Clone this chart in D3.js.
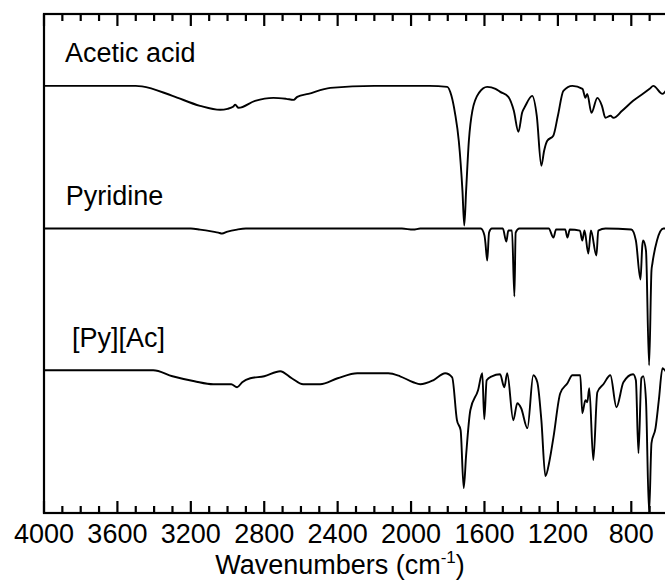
<!DOCTYPE html>
<html>
<head>
<meta charset="utf-8">
<script src="https://cdn.jsdelivr.net/npm/d3@7"></script>
<style>
  body { margin: 0; background: #fff; }
  text { font-family: "Liberation Sans", Arial, sans-serif; fill: #000; }
</style>
</head>
<body>
<div id="chart"></div>
<script>
// spectra: [wavenumber, offset transmittance]
const aceticAcid = [
  [4000, 85.6], [3500, 85.6], [3466, 85.5], [3300, 83.6], [3150, 81.6], [3040, 80.8],
  [3000, 81.0], [2970, 81.4], [2958, 81.8], [2940, 81.2], [2850, 82.6], [2750, 83.2],
  [2680, 83.0], [2640, 82.8], [2620, 83.4], [2560, 84.0], [2440, 85.2], [2200, 85.6],
  [1900, 85.6], [1803, 85.4], [1780, 83.6], [1760, 80.0], [1740, 74.6], [1720, 64.6],
  [1710, 57.6], [1700, 64.6], [1685, 74.6], [1666, 80.6], [1630, 84.2], [1585, 85.4],
  [1540, 85.0], [1514, 84.4], [1470, 83.4], [1440, 80.6], [1415, 76.4], [1395, 80.2],
  [1377, 81.6], [1340, 83.6], [1315, 79.6], [1290, 69.6], [1275, 72.6], [1258, 74.6],
  [1225, 75.6], [1200, 79.6], [1170, 84.6], [1121, 85.6], [1066, 85.0], [1050, 83.2],
  [1040, 84.0], [1017, 80.2], [985, 83.2], [960, 81.6], [941, 79.2], [913, 79.6],
  [897, 79.2], [850, 80.6], [790, 82.6], [700, 85.0], [680, 85.6], [630, 84.0], [600, 85.4]
]
const pyridine = [
  [4000, 57.0], [3200, 57.0], [3150, 56.8], [3080, 56.4], [3050, 56.2], [3030, 56.0],
  [3000, 56.4], [2948, 56.8], [2900, 57.0], [2050, 57.0], [1988, 56.8], [1950, 57.0],
  [1620, 57.0], [1600, 55.6], [1595, 54.2], [1585, 50.6], [1575, 56.2], [1560, 57.0],
  [1500, 57.0], [1481, 54.4], [1470, 56.6], [1450, 56.6], [1437, 43.4], [1430, 56.2],
  [1410, 57.0], [1250, 57.0], [1224, 55.2], [1210, 56.8], [1160, 56.8], [1148, 55.2],
  [1135, 56.8], [1080, 56.6], [1067, 54.6], [1055, 56.6], [1034, 52.0], [1020, 56.6],
  [990, 51.6], [980, 56.6], [940, 57.0], [800, 56.8], [775, 54.6], [750, 46.8],
  [740, 53.6], [735, 54.6], [720, 52.6], [703, 29.6], [690, 48.6], [685, 50.0],
  [660, 54.6], [625, 57.0], [600, 57.0]
]
const pyAc = [
  [4000, 28.6], [3405, 28.6], [3300, 27.4], [3180, 26.4], [3078, 25.8], [2980, 25.8],
  [2948, 25.2], [2920, 26.2], [2876, 27.0], [2800, 27.4], [2713, 28.4], [2650, 27.0],
  [2588, 25.8], [2495, 25.8], [2400, 27.0], [2293, 28.0], [2124, 28.0], [2060, 27.4],
  [1988, 26.2], [1950, 25.8], [1879, 26.6], [1814, 28.0], [1776, 27.2], [1750, 18.6],
  [1730, 16.6], [1713, 5.0], [1700, 11.6], [1677, 20.6], [1635, 24.6], [1612, 28.0],
  [1601, 18.8], [1588, 26.6], [1560, 27.4], [1515, 27.8], [1492, 25.2], [1476, 28.0],
  [1443, 18.6], [1421, 22.0], [1400, 21.0], [1366, 17.0], [1334, 27.6], [1312, 26.2],
  [1290, 18.6], [1268, 7.4], [1245, 10.6], [1224, 15.2], [1187, 24.0], [1148, 26.0],
  [1121, 27.6], [1078, 27.6], [1067, 20.0], [1050, 22.6], [1040, 22.2], [1029, 25.0],
  [1007, 10.6], [985, 24.2], [952, 25.8], [914, 27.6], [881, 21.2], [843, 26.2],
  [790, 27.8], [775, 26.6], [761, 12.0], [745, 27.0], [735, 27.4], [720, 22.6],
  [703, 0.0], [690, 14.0], [668, 17.0], [650, 22.6], [630, 29.0], [600, 27.6]
]
const seriesNames = ["Acetic acid", "Pyridine", "[Py][Ac]"]
const labelWn = [3886, 3882, 3848]
const majorTicks = [4000, 3600, 3200, 2800, 2400, 2000, 1600, 1200, 800]
const minorTicks = [3900, 3800, 3700, 3500, 3400, 3300, 3100, 3000, 2900, 2700, 2600, 2500,
  2300, 2200, 2100, 1900, 1800, 1700, 1500, 1400, 1300, 1100, 1000, 900, 700, 600]

// DIMENSIONS
const width = 665
const height = 582
let dimensions = {
  width: width,
  height: height,
  margin: { top: 14, right: -3, bottom: 69, left: 44 },
}
dimensions.boundedWidth = dimensions.width - dimensions.margin.left - dimensions.margin.right
dimensions.boundedHeight = dimensions.height - dimensions.margin.top - dimensions.margin.bottom

const wrapper = d3.select("#chart")
  .append("svg")
  .attr("width", dimensions.width)
  .attr("height", dimensions.height)

const bounds = wrapper.append("g")
  .attr("transform", `translate(${dimensions.margin.left},${dimensions.margin.top})`)

const xScale = d3.scaleLinear()
  .domain([4000, 600])
  .range([0, dimensions.boundedWidth])

const yScale = d3.scaleLinear()
  .domain([0, 100])
  .range([dimensions.boundedHeight, 0])

// traces
const lineGen = d3.line()
  .x(d => xScale(d[0]))
  .y(d => yScale(d[1]))
  .curve(d3.curveMonotoneX)

const allSeries = [aceticAcid, pyridine, pyAc]
bounds.selectAll(".trace").data(allSeries).enter()
  .append("path")
  .attr("class", "trace")
  .attr("d", lineGen)
  .attr("fill", "none")
  .attr("stroke", "#000")
  .attr("stroke-width", 1.9)
  .attr("stroke-linejoin", "round")

// series labels
bounds.selectAll(".name").data(seriesNames).enter()
  .append("text")
  .attr("class", "name")
  .attr("x", (d, i) => xScale(labelWn[i]))
  .attr("y", (d, i) => yScale(allSeries[i][0][1] + 4.7))
  .attr("font-size", 27)
  .text(d => d)

// ticks, pointing inward on top and bottom edges
const tickData = majorTicks.map(v => ({ v, len: 12 }))
  .concat(minorTicks.map(v => ({ v, len: 7 })))
const h = dimensions.boundedHeight
bounds.selectAll(".tick-bottom").data(tickData).enter()
  .append("line")
  .attr("class", "tick-bottom")
  .attr("x1", d => xScale(d.v))
  .attr("x2", d => xScale(d.v))
  .attr("y1", h)
  .attr("y2", d => h - d.len)
  .attr("stroke", "#000")
  .attr("stroke-width", 2.2)
bounds.selectAll(".tick-top").data(tickData).enter()
  .append("line")
  .attr("class", "tick-top")
  .attr("x1", d => xScale(d.v))
  .attr("x2", d => xScale(d.v))
  .attr("y1", 0)
  .attr("y2", d => d.len)
  .attr("stroke", "#000")
  .attr("stroke-width", 2.2)

// frame
bounds.append("rect")
  .attr("width", dimensions.boundedWidth)
  .attr("height", dimensions.boundedHeight)
  .attr("fill", "none")
  .attr("stroke", "#000")
  .attr("stroke-width", 2.2)

// tick labels
bounds.selectAll(".tick-label").data(majorTicks).enter()
  .append("text")
  .attr("class", "tick-label")
  .attr("x", d => xScale(d))
  .attr("y", h + 30)
  .attr("text-anchor", "middle")
  .attr("font-size", 27)
  .text(d => d)

// axis title
const title = bounds.append("text")
  .attr("x", 296)
  .attr("y", h + 61)
  .attr("text-anchor", "middle")
  .attr("font-size", 27)
title.append("tspan").text("Wavenumbers (cm")
title.append("tspan").attr("font-size", 17).attr("dy", -11).text("-1")
title.append("tspan").attr("dy", 11).text(")")
</script>
</body>
</html>
